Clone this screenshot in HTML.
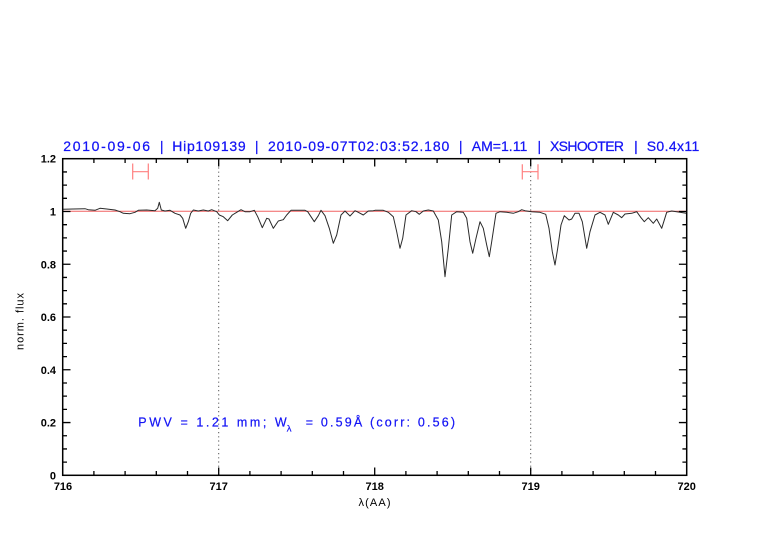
<!DOCTYPE html>
<html><head><meta charset="utf-8"><style>
html,body{margin:0;padding:0;background:#fff;}
svg{display:block;}
text{font-family:"Liberation Sans",sans-serif;}
</style></head><body>
<svg width="782" height="542" viewBox="0 0 782 542" xmlns="http://www.w3.org/2000/svg">
<rect width="782" height="542" fill="#fff"/>
<!-- title -->
<g fill="#1414f5" stroke="#1414f5" stroke-width="0.25" font-size="14">
<text x="63.3" y="151" textLength="86.7" lengthAdjust="spacing">2010-09-06</text>
<text x="161.7" y="151" text-anchor="middle">|</text>
<text x="172.3" y="151" textLength="73.4" lengthAdjust="spacing">Hip109139</text>
<text x="256.7" y="151" text-anchor="middle">|</text>
<text x="268" y="151" textLength="181.3" lengthAdjust="spacing">2010-09-07T02:03:52.180</text>
<text x="460.7" y="151" text-anchor="middle">|</text>
<text x="471.7" y="151" textLength="55.6" lengthAdjust="spacing">AM=1.11</text>
<text x="539.3" y="151" text-anchor="middle">|</text>
<text x="550" y="151" textLength="74" lengthAdjust="spacing">XSHOOTER</text>
<text x="636" y="151" text-anchor="middle">|</text>
<text x="646.7" y="151" textLength="52.6" lengthAdjust="spacing">S0.4x11</text>
</g>
<!-- dotted verticals -->
<g stroke="#555" stroke-width="1" stroke-dasharray="1.2,3">
<line x1="218.7" y1="159" x2="218.7" y2="475"/>
<line x1="530.7" y1="159" x2="530.7" y2="475"/>
</g>
<!-- continuum -->
<line x1="62.7" y1="211.2" x2="686.7" y2="211.2" stroke="#f06262" stroke-width="1"/>
<!-- error bars -->
<g stroke="#ff8080" stroke-width="1.2" fill="none">
<path d="M132.7 171.7H148.3M132.7 163.5V179.5M148.3 163.5V179.5"/>
<path d="M522.3 171.7H538M522.3 164.3V179.5M538 164.3V179.5"/>
</g>
<!-- spectrum -->
<polyline fill="none" stroke="#2a2a2a" stroke-width="1" stroke-linejoin="round" points="
63.3,209.3 73.3,209 85,208.7 88.3,209.7 95,210.3 100,208.3 106.7,209 115,210 120,211.7 123.3,213.3 130,213.7 135,212.3 138.3,210.3 146.7,210 155,210.7 157.7,208.3 159.3,202.3 161.3,210 165,211 170,210.3 175,213.3 180,215 182.7,218.3 185.7,228.3 188.3,221.7 190.7,213.3 193.3,210 198.3,211 203.3,210 208.3,211 211.7,209.7 216.7,211.7 219.3,215 223.3,216.7 227.7,220.7 232.3,215 236.7,212.3 241,209.7 245,211.7 250,211.7 254.3,210.3 257.7,216.7 262.3,227.7 266.7,218.3 269,219 273.3,228.3 278.3,221 283.3,219.7 286.7,215 291,210.3 305,210.3 307.7,211.7 314.3,221.7 318.3,215.7 321,210.3 325,215.7 329.3,228.3 333.3,243.3 336.7,235 341,215 345,211 350,216 355,210.7 358.3,212.3 363.3,215 368.3,211 373.3,210.7 375,210.3 383.3,210.3 388.3,212.3 393.3,216.7 396.7,231.7 400,248.3 402.7,238.3 406,215 411.7,210.7 416,211.7 419.3,214.3 423.3,211 428.3,210 433.3,211 438.3,220 441.7,241.7 445,276.7 448.3,248.3 451.7,215 456.7,211.7 463.3,212.3 466.7,218.3 470,241.7 472.7,253.3 476,238.3 480,221.7 483.3,228.3 486.7,245 489.3,256.7 491.7,241.7 496,213.3 500,211.7 506.7,212.3 513.3,213.3 518.3,211.7 521.7,209.7 525,210.7 531.7,211.7 540,212.3 545.7,214.3 549,228.3 552.3,251.7 555,265 557.7,248.3 561,225 564.3,215.7 569,220 571.7,219 575,213.3 579,213.3 582.3,221.7 586.7,248.3 590,231.7 595,215 600,212.3 605,215 608.3,224.3 613.3,212.3 618.3,215 621.7,217.7 625,214 631.7,213.3 636.7,211.7 641,217.7 644.3,221.7 648.3,217.7 653.3,223.3 656.7,219 661.7,228.3 666.7,212.3 671.7,211 680,212.3 686,213.3"/>
<!-- frame -->
<rect x="62.7" y="158.7" width="624" height="316.6" fill="none" stroke="#000" stroke-width="1.5"/>
<!-- ticks -->
<g stroke="#000" stroke-width="1.3" fill="none">
<path d="M218.7 475.3V467.5M374.7 475.3V467.5M530.7 475.3V467.5
M93.9 475.3V471M125.1 475.3V471M156.3 475.3V471M187.5 475.3V471M249.9 475.3V471M281.1 475.3V471M312.3 475.3V471M343.5 475.3V471M405.9 475.3V471M437.1 475.3V471M468.3 475.3V471M499.5 475.3V471M561.9 475.3V471M593.1 475.3V471M624.3 475.3V471M655.5 475.3V471"/>
<path d="M218.7 158.7V166.5M374.7 158.7V166.5M530.7 158.7V166.5
M93.9 158.7V163M125.1 158.7V163M156.3 158.7V163M187.5 158.7V163M249.9 158.7V163M281.1 158.7V163M312.3 158.7V163M343.5 158.7V163M405.9 158.7V163M437.1 158.7V163M468.3 158.7V163M499.5 158.7V163M561.9 158.7V163M593.1 158.7V163M624.3 158.7V163M655.5 158.7V163"/>
<path d="M62.7 422.54H70.5M62.7 369.78H70.5M62.7 317.02H70.5M62.7 264.26H70.5M62.7 211.5H70.5
M62.7 462.11H67M62.7 448.92H67M62.7 435.73H67M62.7 409.35H67M62.7 396.16H67M62.7 382.97H67M62.7 356.59H67M62.7 343.4H67M62.7 330.21H67M62.7 303.83H67M62.7 290.64H67M62.7 277.45H67M62.7 251.07H67M62.7 237.88H67M62.7 224.69H67M62.7 198.31H67M62.7 185.12H67M62.7 171.93H67"/>
<path d="M686.7 422.54H678.9M686.7 369.78H678.9M686.7 317.02H678.9M686.7 264.26H678.9M686.7 211.5H678.9
M686.7 462.11H682.4M686.7 448.92H682.4M686.7 435.73H682.4M686.7 409.35H682.4M686.7 396.16H682.4M686.7 382.97H682.4M686.7 356.59H682.4M686.7 343.4H682.4M686.7 330.21H682.4M686.7 303.83H682.4M686.7 290.64H682.4M686.7 277.45H682.4M686.7 251.07H682.4M686.7 237.88H682.4M686.7 224.69H682.4M686.7 198.31H682.4M686.7 185.12H682.4M686.7 171.93H682.4"/>
</g>
<!-- x tick labels -->
<g font-size="11" font-weight="bold" fill="#000" text-anchor="middle">
<text x="63" y="490">716</text>
<text x="218.7" y="490">717</text>
<text x="374.7" y="490">718</text>
<text x="530.7" y="490">719</text>
<text x="686.7" y="490">720</text>
</g>
<!-- y tick labels -->
<g font-size="11" font-weight="bold" fill="#000" text-anchor="end">
<text x="56" y="479.3">0</text>
<text x="56" y="426.5">0.2</text>
<text x="56" y="373.8">0.4</text>
<text x="56" y="321">0.6</text>
<text x="56" y="268.3">0.8</text>
<text x="56" y="215.5">1</text>
<text x="56" y="162.7">1.2</text>
</g>
<!-- axis labels -->
<text x="374.5" y="506" font-size="11" fill="#000" text-anchor="middle" textLength="32" lengthAdjust="spacing">λ(AA)</text>
<text transform="translate(23.5,321.5) rotate(-90)" font-size="11" fill="#000" text-anchor="middle" textLength="57" lengthAdjust="spacing">norm. flux</text>
<!-- PWV annotation -->
<g fill="#1414f5" stroke="#1414f5" stroke-width="0.2">
<text x="138.3" y="426.7" font-size="12.5" textLength="148.4" lengthAdjust="spacing">PWV = 1.21 mm; W</text>
<text x="286.7" y="431.7" font-size="9.5">λ</text>
<text x="305.7" y="426.7" font-size="12.5" textLength="149.3" lengthAdjust="spacing">= 0.59Å (corr: 0.56)</text>
</g>
</svg>
</body></html>
